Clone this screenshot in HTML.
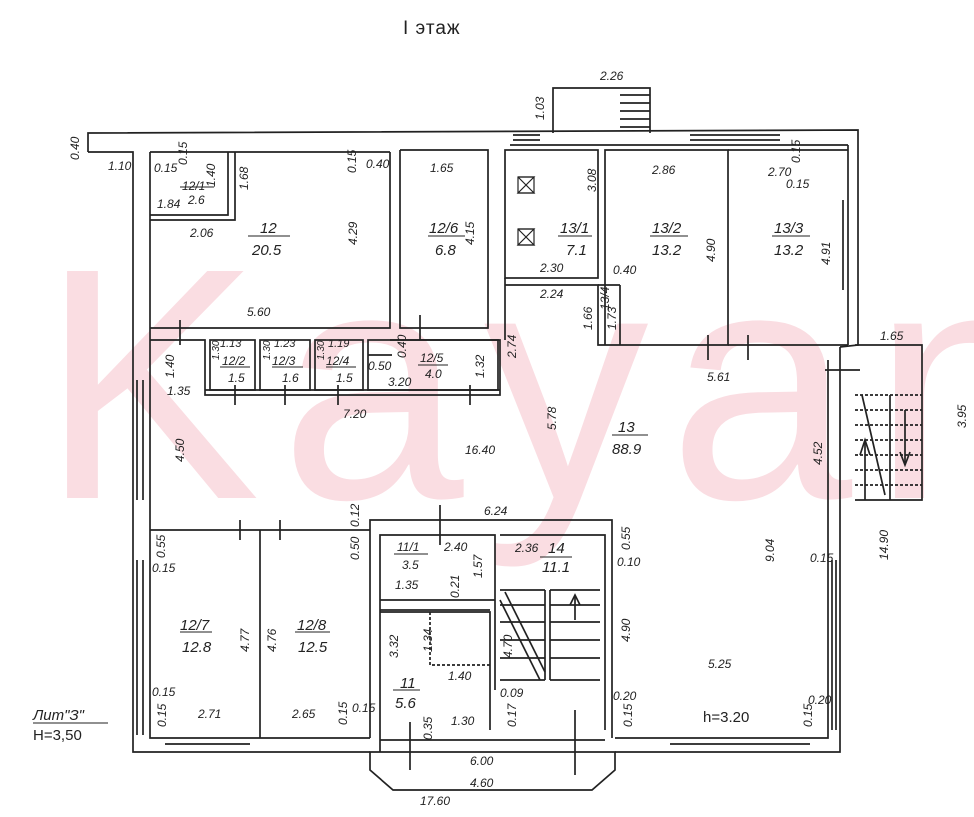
<!DOCTYPE html>
<html><head><meta charset="utf-8"><style>
html,body{margin:0;padding:0;background:#fff;width:974px;height:817px;overflow:hidden}
svg text{font-family:"Liberation Sans",sans-serif;font-style:italic;fill:#222;font-size:12px}
.b{font-size:15px}
</style></head><body>
<svg width="974" height="817" viewBox="0 0 974 817" xmlns="http://www.w3.org/2000/svg">
<text x="40" y="498" style="font-size:330px;font-style:normal;fill:#fadde2;letter-spacing:20px" font-family="Liberation Sans">Kayan</text>
<text x="403" y="34" style="font-size:19px;font-style:normal;letter-spacing:1px">I этаж</text>
<g fill="none" stroke="#222" stroke-width="1.7">
<polyline points="88,152 88,133 858,130 858,345 840,347"/>
<polyline points="88,152 133,152 133,752 370,752"/>
<polyline points="150,152 150,335"/>
<polyline points="150,335 150,738 370,738"/>
<line x1="848" y1="145" x2="848" y2="345"/>
<line x1="510" y1="145" x2="848" y2="145"/>
<line x1="150" y1="152" x2="390" y2="152"/>
<polyline points="840,347 840,752 615,752"/>
<polyline points="828,360 828,738 615,738"/>
<polygon points="370,752 370,770 393,790 592,790 615,770 615,752"/>
<polyline points="553,133 553,88 650,88 650,133"/>
<line x1="620" y1="95" x2="650" y2="95"/><line x1="620" y1="103" x2="650" y2="103"/><line x1="620" y1="111" x2="650" y2="111"/><line x1="620" y1="119" x2="650" y2="119"/><line x1="620" y1="127" x2="650" y2="127"/>
<polyline points="150,215 228,215 228,152"/><polyline points="150,220 235,220 235,152"/>
<polyline points="150,328 390,328 390,152"/>
<polyline points="400,150 400,328 488,328 488,150 400,150"/>
<rect x="505" y="150" width="93" height="128"/>
<polyline points="505,285 598,285 598,345 728,345 728,150 605,150 605,345"/>
<polyline points="728,150 848,150"/>
<line x1="728" y1="345" x2="848" y2="345"/>
<line x1="505" y1="278" x2="505" y2="340"/>
<line x1="598" y1="285" x2="620" y2="285"/><line x1="620" y1="285" x2="620" y2="345"/>
<polyline points="150,340 205,340 205,395 500,395 500,340 390,340"/>
<line x1="205" y1="390" x2="500" y2="390"/>
<rect x="210" y="340" width="45" height="50"/><rect x="260" y="340" width="50" height="50"/><rect x="315" y="340" width="48" height="50"/><rect x="368" y="340" width="130" height="50"/>
<line x1="368" y1="355" x2="392" y2="355"/>
<polyline points="150,530 370,530"/><line x1="260" y1="530" x2="260" y2="738"/>
<polyline points="370,738 370,520 612,520 612,738"/>
<polyline points="380,752 380,535 495,535 495,690"/>
<line x1="380" y1="600" x2="495" y2="600"/><line x1="380" y1="610" x2="490" y2="610"/>
<polyline points="380,612 490,612 490,730"/>
<polyline points="500,535 605,535 605,730"/>
<line x1="380" y1="740" x2="605" y2="740"/>
<line x1="500" y1="590" x2="545" y2="590"/><line x1="500" y1="680" x2="545" y2="680"/><line x1="545" y1="590" x2="545" y2="680"/>
<line x1="550" y1="590" x2="600" y2="590"/><line x1="550" y1="680" x2="600" y2="680"/><line x1="550" y1="590" x2="550" y2="680"/>
<line x1="550" y1="605" x2="600" y2="605"/><line x1="550" y1="622" x2="600" y2="622"/><line x1="550" y1="640" x2="600" y2="640"/><line x1="550" y1="658" x2="600" y2="658"/>
<line x1="500" y1="605" x2="545" y2="605"/><line x1="500" y1="622" x2="545" y2="622"/><line x1="500" y1="640" x2="545" y2="640"/><line x1="500" y1="658" x2="545" y2="658"/>
<line x1="500" y1="600" x2="540" y2="680"/><line x1="505" y1="592" x2="545" y2="672"/>
<line x1="575" y1="620" x2="575" y2="595"/><polyline points="570,605 575,595 580,605"/>
<polyline points="430,612 430,665 490,665" stroke-dasharray="3,2"/>
<polyline points="855,345 922,345 922,500 855,500"/>
<line x1="855" y1="395" x2="922" y2="395" stroke-dasharray="3,2"/><line x1="855" y1="410" x2="922" y2="410" stroke-dasharray="3,2"/><line x1="855" y1="425" x2="922" y2="425" stroke-dasharray="3,2"/><line x1="855" y1="440" x2="922" y2="440" stroke-dasharray="3,2"/><line x1="855" y1="455" x2="922" y2="455" stroke-dasharray="3,2"/><line x1="855" y1="470" x2="922" y2="470" stroke-dasharray="3,2"/><line x1="855" y1="485" x2="922" y2="485" stroke-dasharray="3,2"/>
<line x1="890" y1="395" x2="890" y2="500"/><line x1="862" y1="395" x2="885" y2="495"/>
<line x1="865" y1="440" x2="865" y2="500"/><polyline points="860,455 865,440 870,455"/>
<line x1="905" y1="410" x2="905" y2="465"/><polyline points="900,452 905,465 910,452"/>
<line x1="137" y1="380" x2="137" y2="500"/><line x1="143" y1="380" x2="143" y2="500"/>
<line x1="137" y1="560" x2="137" y2="735"/><line x1="143" y1="560" x2="143" y2="735"/>
<line x1="832" y1="560" x2="832" y2="730"/><line x1="836" y1="560" x2="836" y2="730"/>
<line x1="843" y1="200" x2="843" y2="290"/>
<line x1="165" y1="744" x2="250" y2="744"/><line x1="670" y1="744" x2="810" y2="744"/>
<line x1="690" y1="135" x2="780" y2="135"/><line x1="690" y1="140" x2="780" y2="140"/>
<line x1="513" y1="135" x2="540" y2="135"/><line x1="513" y1="140" x2="540" y2="140"/>
<line x1="180" y1="320" x2="180" y2="345"/><line x1="420" y1="315" x2="420" y2="340"/><line x1="708" y1="335" x2="708" y2="360"/><line x1="748" y1="335" x2="748" y2="360"/>
<line x1="235" y1="385" x2="235" y2="405"/><line x1="285" y1="385" x2="285" y2="405"/><line x1="338" y1="385" x2="338" y2="405"/><line x1="470" y1="385" x2="470" y2="405"/>
<line x1="240" y1="520" x2="240" y2="540"/><line x1="280" y1="520" x2="280" y2="540"/><line x1="440" y1="505" x2="440" y2="545"/>
<line x1="410" y1="722" x2="410" y2="770"/><line x1="575" y1="710" x2="575" y2="775"/>
<line x1="825" y1="370" x2="860" y2="370"/>
</g>
<g fill="none" stroke="#222" stroke-width="1.2">
<rect x="518" y="177" width="16" height="16"/><polyline points="518,177 534,193 518,193 534,177 518,177"/>
<rect x="518" y="229" width="16" height="16"/><polyline points="518,229 534,245 518,245 534,229 518,229"/>
</g>
<g stroke="#222" stroke-width="1">
<line x1="180" y1="187" x2="214" y2="187"/><line x1="248" y1="236" x2="290" y2="236"/><line x1="428" y1="236" x2="465" y2="236"/><line x1="558" y1="236" x2="592" y2="236"/><line x1="650" y1="236" x2="688" y2="236"/><line x1="772" y1="236" x2="810" y2="236"/>
<line x1="220" y1="367" x2="250" y2="367"/><line x1="272" y1="367" x2="303" y2="367"/><line x1="326" y1="367" x2="356" y2="367"/><line x1="418" y1="365" x2="448" y2="365"/><line x1="612" y1="435" x2="648" y2="435"/>
<line x1="394" y1="554" x2="428" y2="554"/><line x1="540" y1="557" x2="572" y2="557"/><line x1="180" y1="632" x2="212" y2="632"/><line x1="295" y1="632" x2="330" y2="632"/><line x1="393" y1="690" x2="420" y2="690"/>
</g>
<g>
<text x="600" y="80">2.26</text><text x="108" y="170">1.10</text><text x="154" y="172">0.15</text><text x="182" y="190">12/1</text><text x="188" y="204">2.6</text><text x="157" y="208">1.84</text><text x="190" y="237">2.06</text>
<text x="260" y="233" class="b">12</text><text x="252" y="255" class="b">20.5</text><text x="366" y="168">0.40</text><text x="247" y="316">5.60</text>
<text x="430" y="172">1.65</text><text x="429" y="233" class="b">12/6</text><text x="435" y="255" class="b">6.8</text>
<text x="560" y="233" class="b">13/1</text><text x="566" y="255" class="b">7.1</text><text x="540" y="272">2.30</text>
<text x="652" y="174">2.86</text><text x="652" y="233" class="b">13/2</text><text x="652" y="255" class="b">13.2</text><text x="613" y="274">0.40</text>
<text x="768" y="176">2.70</text><text x="786" y="188">0.15</text><text x="774" y="233" class="b">13/3</text><text x="774" y="255" class="b">13.2</text>
<text x="540" y="298">2.24</text><text x="880" y="340">1.65</text><text x="707" y="381">5.61</text>
<text x="220" y="347" style="font-size:11px">1.13</text><text x="222" y="365">12/2</text><text x="228" y="382">1.5</text>
<text x="274" y="347" style="font-size:11px">1.23</text><text x="272" y="365">12/3</text><text x="282" y="382">1.6</text>
<text x="328" y="347" style="font-size:11px">1.19</text><text x="326" y="365">12/4</text><text x="336" y="382">1.5</text>
<text x="368" y="370">0.50</text><text x="420" y="362">12/5</text><text x="425" y="378">4.0</text><text x="388" y="386">3.20</text>
<text x="167" y="395">1.35</text><text x="343" y="418">7.20</text><text x="465" y="454">16.40</text>
<text x="618" y="432" class="b">13</text><text x="612" y="454" class="b">88.9</text>
<text x="484" y="515">6.24</text><text x="152" y="572">0.15</text>
<text x="397" y="551">11/1</text><text x="444" y="551">2.40</text><text x="402" y="569">3.5</text><text x="395" y="589">1.35</text>
<text x="515" y="552">2.36</text><text x="548" y="553" class="b">14</text><text x="542" y="572" class="b">11.1</text><text x="617" y="566">0.10</text>
<text x="810" y="562">0.15</text><text x="180" y="630" class="b">12/7</text><text x="182" y="652" class="b">12.8</text><text x="297" y="630" class="b">12/8</text><text x="298" y="652" class="b">12.5</text>
<text x="448" y="680">1.40</text><text x="400" y="688" class="b">11</text><text x="395" y="708" class="b">5.6</text><text x="500" y="697">0.09</text><text x="708" y="668">5.25</text>
<text x="613" y="700">0.20</text><text x="808" y="704">0.20</text><text x="703" y="722" style="font-style:normal;font-size:15px">h=3.20</text>
<text x="152" y="696">0.15</text><text x="198" y="718">2.71</text><text x="292" y="718">2.65</text><text x="352" y="712">0.15</text><text x="451" y="725">1.30</text>
<text x="470" y="765">6.00</text><text x="470" y="787">4.60</text><text x="420" y="805">17.60</text>
<text x="33" y="720" style="font-size:15px">Лит"З"</text><text x="33" y="740" style="font-size:15px;font-style:normal">Н=3,50</text>
<line x1="33" y1="723" x2="108" y2="723" stroke="#222"/>
</g>
<g>
<text transform="translate(79,160) rotate(-90)">0.40</text><text transform="translate(544,120) rotate(-90)">1.03</text><text transform="translate(187,165) rotate(-90)">0.15</text><text transform="translate(215,187) rotate(-90)">1.40</text><text transform="translate(248,190) rotate(-90)">1.68</text><text transform="translate(357,245) rotate(-90)">4.29</text><text transform="translate(356,173) rotate(-90)">0.15</text><text transform="translate(474,245) rotate(-90)">4.15</text><text transform="translate(596,192) rotate(-90)">3.08</text><text transform="translate(715,262) rotate(-90)">4.90</text><text transform="translate(800,163) rotate(-90)">0.15</text><text transform="translate(830,265) rotate(-90)">4.91</text>
<text transform="translate(609,310) rotate(-90)">13/4</text><text transform="translate(592,330) rotate(-90)">1.66</text><text transform="translate(616,330) rotate(-90)">1.73</text><text transform="translate(516,358) rotate(-90)">2.74</text><text transform="translate(966,428) rotate(-90)">3.95</text>
<text transform="translate(174,378) rotate(-90)">1.40</text><text transform="translate(219,360) rotate(-90)" style="font-size:10px">1.30</text><text transform="translate(270,360) rotate(-90)" style="font-size:10px">1.30</text><text transform="translate(324,360) rotate(-90)" style="font-size:10px">1.30</text><text transform="translate(406,358) rotate(-90)">0.40</text><text transform="translate(484,378) rotate(-90)">1.32</text>
<text transform="translate(556,430) rotate(-90)">5.78</text><text transform="translate(184,462) rotate(-90)">4.50</text><text transform="translate(822,465) rotate(-90)">4.52</text><text transform="translate(359,527) rotate(-90)">0.12</text><text transform="translate(359,560) rotate(-90)">0.50</text><text transform="translate(165,558) rotate(-90)">0.55</text><text transform="translate(482,578) rotate(-90)">1.57</text><text transform="translate(459,598) rotate(-90)">0.21</text><text transform="translate(630,550) rotate(-90)">0.55</text>
<text transform="translate(774,562) rotate(-90)">9.04</text><text transform="translate(888,560) rotate(-90)">14.90</text><text transform="translate(249,652) rotate(-90)">4.77</text><text transform="translate(276,652) rotate(-90)">4.76</text><text transform="translate(398,658) rotate(-90)">3.32</text><text transform="translate(432,652) rotate(-90)">1.34</text><text transform="translate(512,658) rotate(-90)">4.70</text><text transform="translate(630,642) rotate(-90)">4.90</text>
<text transform="translate(516,727) rotate(-90)">0.17</text><text transform="translate(632,727) rotate(-90)">0.15</text><text transform="translate(812,727) rotate(-90)">0.15</text><text transform="translate(166,727) rotate(-90)">0.15</text><text transform="translate(347,725) rotate(-90)">0.15</text><text transform="translate(432,740) rotate(-90)">0.35</text>
</g>
</svg>
</body></html>
